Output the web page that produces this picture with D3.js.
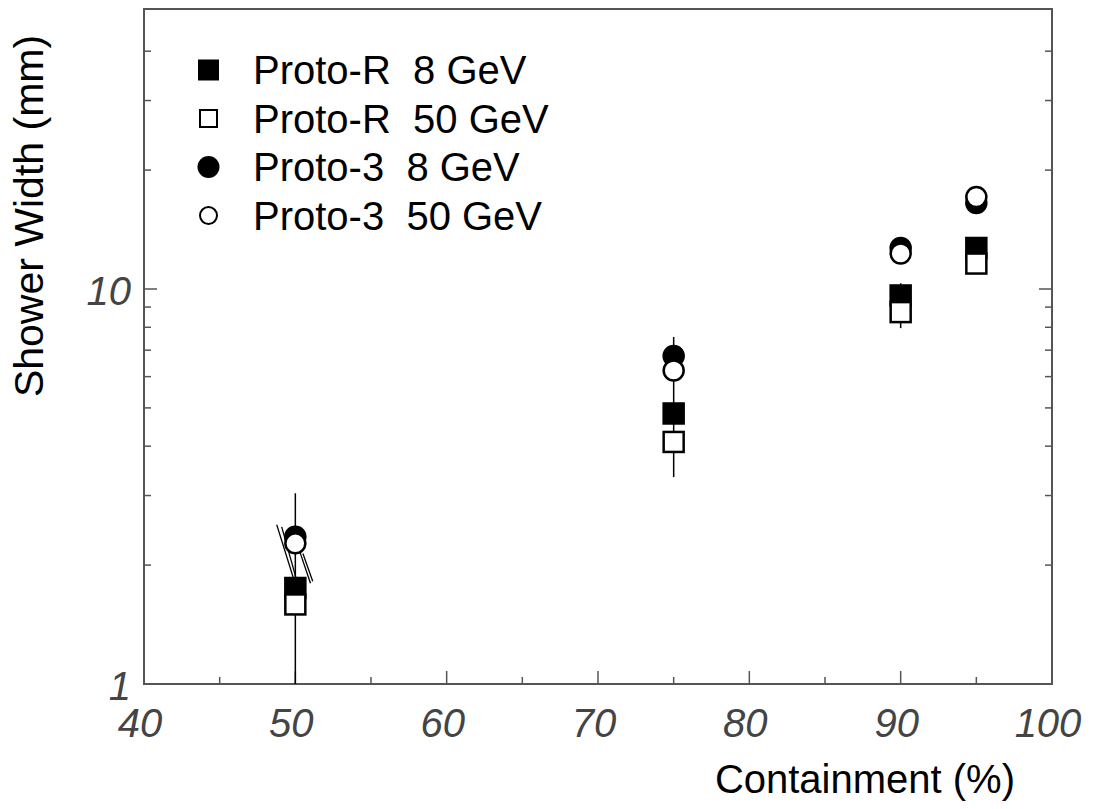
<!DOCTYPE html>
<html>
<head>
<meta charset="utf-8">
<script src="https://cdn.jsdelivr.net/npm/d3@7"></script>
<style>
  body { margin: 0; background: #fff; }
  text { font-family: "Liberation Sans", Arial, sans-serif; }
</style>
</head>
<body>
<div id="chart"></div>
<script>
// containment values (%)
var containment = [50, 75, 90, 95];

// shower width (mm) per series
var protoR8  = [1.75, 4.84, 9.63, 12.7];
var protoR50 = [1.59, 4.10, 8.74, 11.6];
var proto3_8  = [2.36, 6.77, 12.7, 16.5];
var proto3_50 = [2.27, 6.22, 12.3, 17.1];

// vertical error bars [x, low, high]
var errBars = [[50, 1.0, 3.04], [75, 3.34, 7.56], [90, 7.96, 10.34]];
// the slanted bars near 50% [x1, y1, x2, y2]
var slantBars = [
  [48.77, 2.53, 49.87, 1.855],
  [49.10, 2.50, 50.09, 1.83],
  [50.30, 2.16, 51.00, 1.80],
  [50.50, 2.14, 51.15, 1.82]
];

var xTicks = [40, 50, 60, 70, 80, 90, 100];
var xMinor = [45, 55, 65, 75, 85, 95];
var yTicks = [1, 10];
var yMinor = [2, 3, 4, 5, 6, 7, 8, 9, 20, 30, 40];

var legendNames = ["Proto-R  8 GeV", "Proto-R  50 GeV", "Proto-3  8 GeV", "Proto-3  50 GeV"];

const width = 1093, height = 809;
const pLeft = 144, pRight = 1052, pTop = 9, pBottom = 684;
const axisCol = "#555";

const svg = d3.select("#chart").append("svg")
  .attr("width", width).attr("height", height);

const x = d3.scaleLinear().domain([40, 100]).range([pLeft, pRight]);
const y = d3.scaleLog().domain([1, Math.pow(10, (pBottom - pTop) / 395)]).range([pBottom, pTop]);

// frame
svg.append("rect")
  .attr("x", pLeft).attr("y", pTop)
  .attr("width", pRight - pLeft).attr("height", pBottom - pTop)
  .attr("fill", "none").attr("stroke", axisCol).attr("stroke-width", 2);

// x ticks (inside)
svg.append("g").selectAll("line").data(xTicks.slice(1, -1)).join("line")
  .attr("x1", d => x(d)).attr("x2", d => x(d))
  .attr("y1", pBottom).attr("y2", pBottom - 13)
  .attr("stroke", axisCol).attr("stroke-width", 1.5);
svg.append("g").selectAll("line").data(xMinor).join("line")
  .attr("x1", d => x(d)).attr("x2", d => x(d))
  .attr("y1", pBottom).attr("y2", pBottom - 7)
  .attr("stroke", axisCol).attr("stroke-width", 1.5);

svg.append("g").selectAll("text").data(xTicks).join("text")
  .attr("x", d => x(d) - 4).attr("y", 737)
  .attr("text-anchor", "middle")
  .attr("font-size", 40).attr("font-style", "italic").attr("fill", "#444")
  .text(d => d);

// y ticks, both sides
[pLeft, pRight].forEach(function(side) {
  const dir = side == pLeft ? 1 : -1;
  svg.append("g").selectAll("line").data(yTicks.slice(1)).join("line")
    .attr("x1", side).attr("x2", side + dir * 13)
    .attr("y1", d => y(d)).attr("y2", d => y(d))
    .attr("stroke", axisCol).attr("stroke-width", 1.5);
  svg.append("g").selectAll("line").data(yMinor).join("line")
    .attr("x1", side).attr("x2", side + dir * 7)
    .attr("y1", d => y(d)).attr("y2", d => y(d))
    .attr("stroke", axisCol).attr("stroke-width", 1.5);
});

svg.append("g").selectAll("text").data(yTicks).join("text")
  .attr("x", pLeft - 13).attr("y", d => y(d) + 16)
  .attr("text-anchor", "end")
  .attr("font-size", 40).attr("font-style", "italic").attr("fill", "#444")
  .text(d => d);

// axis titles
svg.append("text")
  .attr("x", 1015).attr("y", 793)
  .attr("text-anchor", "end").attr("font-size", 40).attr("fill", "#000")
  .text("Containment (%)");

svg.append("text")
  .attr("transform", "translate(43,216) rotate(-90)")
  .attr("text-anchor", "middle").attr("font-size", 41).attr("fill", "#000")
  .text("Shower Width (mm)");

// error bars
const plot = svg.append("g");
plot.selectAll("line.err").data(errBars).join("line")
  .attr("class", "err")
  .attr("x1", d => x(d[0])).attr("x2", d => x(d[0]))
  .attr("y1", d => y(d[1])).attr("y2", d => y(d[2]))
  .attr("stroke", "#000").attr("stroke-width", 1.5);

plot.selectAll("line.slant").data(slantBars).join("line")
  .attr("class", "slant")
  .attr("x1", d => x(d[0])).attr("y1", d => y(d[1]))
  .attr("x2", d => x(d[2])).attr("y2", d => y(d[3]))
  .attr("stroke", "#000").attr("stroke-width", 1.3);

// markers
const sq = 20;
function squares(vals, fill) {
  plot.append("g").selectAll("rect").data(vals).join("rect")
    .attr("x", (d, i) => x(containment[i]) - sq / 2)
    .attr("y", d => y(d) - sq / 2)
    .attr("width", sq).attr("height", sq)
    .attr("fill", fill).attr("stroke", "#000").attr("stroke-width", 2.5);
}
function circles(vals, fill) {
  plot.append("g").selectAll("circle").data(vals).join("circle")
    .attr("cx", (d, i) => x(containment[i]))
    .attr("cy", d => y(d))
    .attr("r", 10)
    .attr("fill", fill).attr("stroke", "#000").attr("stroke-width", 2.5);
}
squares(protoR8, "#000");
squares(protoR50, "#fff");
circles(proto3_8, "#000");
circles(proto3_50, "#fff");

// legend
const leg = svg.append("g");
legendNames.forEach(function(name, i) {
  const cy = 70 + i * 48.5;
  if (i == 0) leg.append("rect").attr("x", 198).attr("y", cy - 10.5).attr("width", 21).attr("height", 21).attr("fill", "#000");
  if (i == 1) leg.append("rect").attr("x", 200).attr("y", cy - 8.5).attr("width", 17).attr("height", 17).attr("fill", "#fff").attr("stroke", "#000").attr("stroke-width", 2);
  if (i == 2) leg.append("circle").attr("cx", 208.5).attr("cy", cy).attr("r", 11).attr("fill", "#000");
  if (i == 3) leg.append("circle").attr("cx", 208.5).attr("cy", cy).attr("r", 8.5).attr("fill", "#fff").attr("stroke", "#000").attr("stroke-width", 2);
  leg.append("text")
    .attr("x", 253).attr("y", cy + 14)
    .attr("font-size", 40).attr("fill", "#000")
    .style("white-space", "pre")
    .text(name);
});
</script>
</body>
</html>
